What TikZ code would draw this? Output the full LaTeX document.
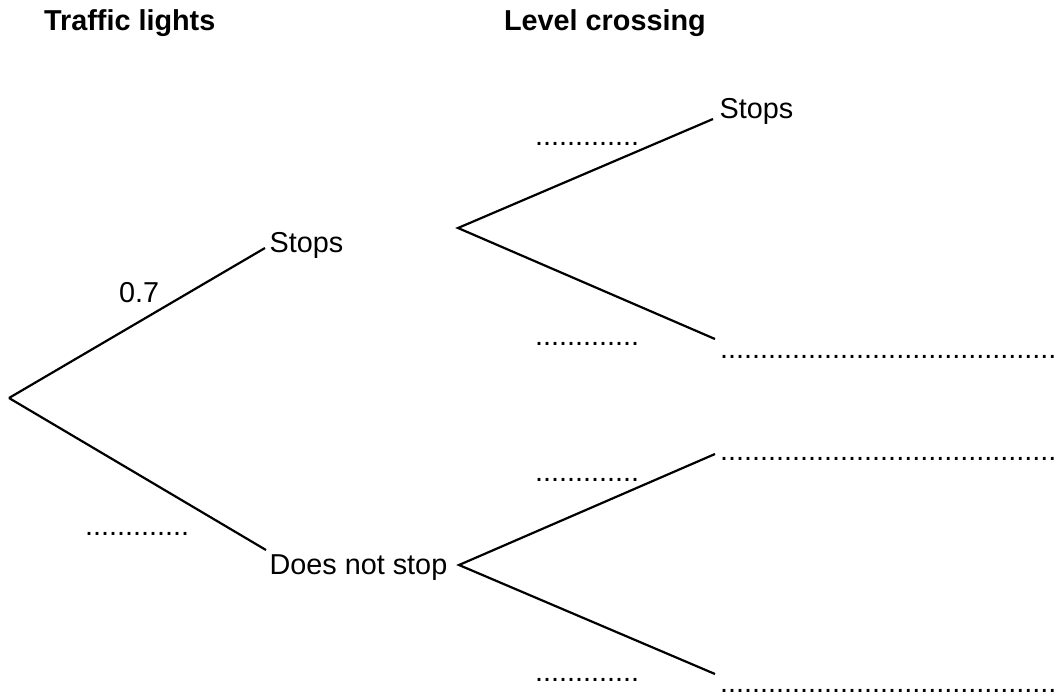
\documentclass[tikz,border=0pt]{standalone}
\usepackage{fontspec}
\setmainfont{Liberation Sans}

\begin{document}
\begin{tikzpicture}[x=0.5pt,y=-0.5pt,line width=1.1pt,
    lbl/.style={anchor=base west,inner sep=0pt,font=\fontsize{14.4}{17}\selectfont}]
        \useasboundingbox (0,0) rectangle (1059,696);
        % headings
        \node[lbl,font=\fontsize{14.4}{17}\selectfont\bfseries] (hlights) at (43,30) {Traffic lights};
        \node[lbl,font=\fontsize{14.4}{17}\selectfont\bfseries] (hcross) at (503,30) {Level crossing};
        % first branch
        \coordinate (root) at (9,398);
        \coordinate (ts) at (265,248);
        \coordinate (tn) at (266,550);
        \draw (root) -- (ts);
        \draw (root) -- (tn);
        \node[lbl] (tstops) at (268.5,252) {Stops};
        \node[lbl] (tnot) at (268.5,574) {Does not stop};
        \node[lbl] (pts) at (118,302) {0.7};
        \node[lbl] (ptn) at (84,535) {.............};
        % second branch
        \coordinate (cs) at (458,228);
        \coordinate (cn) at (459,565);
        \coordinate (css) at (713,119);
        \coordinate (csn) at (715,339);
        \coordinate (cns) at (715,454);
        \coordinate (cnn) at (715,674);
        \draw (css) -- (cs) -- (csn);
        \draw (cns) -- (cn) -- (cnn);
        \node[lbl] (lstops) at (718.5,118) {Stops};
        \node[lbl] (pss) at (534,145) {.............};
        \node[lbl] (psn) at (534,345) {.............};
        \node[lbl] (pns) at (534,481) {.............};
        \node[lbl] (pnn) at (534,681) {.............};
        \node[lbl] (lsn) at (719,358) {..........................................};
        \node[lbl] (lns) at (719,460) {..........................................};
        \node[lbl] (lnn) at (719,692) {..........................................};
    \end{tikzpicture}
\end{document}
